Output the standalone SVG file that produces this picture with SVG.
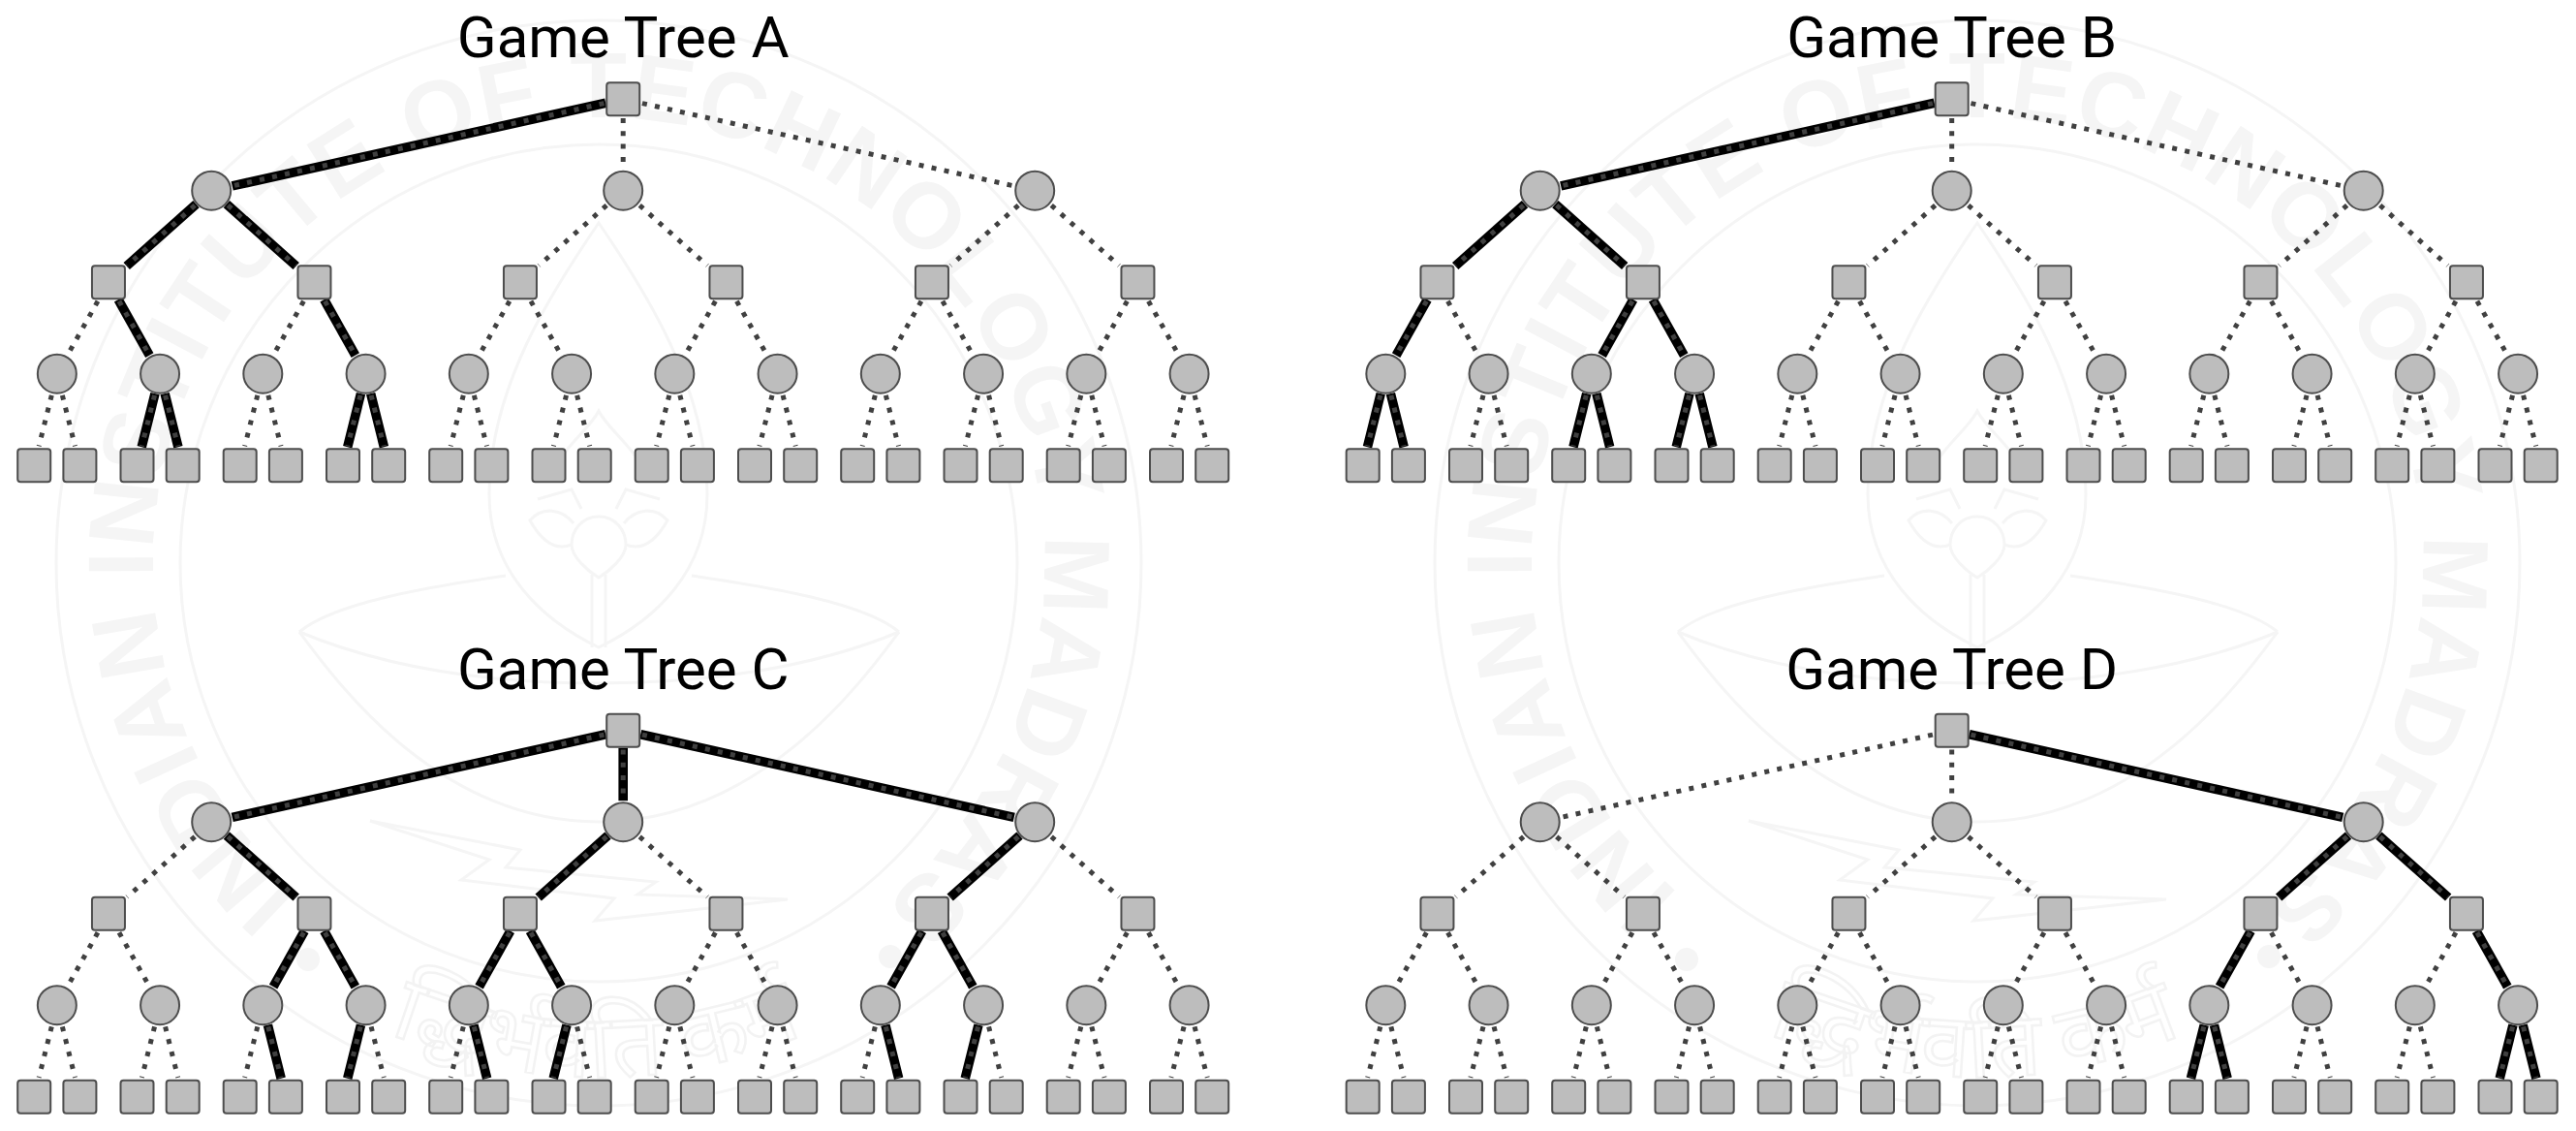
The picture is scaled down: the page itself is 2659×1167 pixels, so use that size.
<svg xmlns="http://www.w3.org/2000/svg" width="2659" height="1167" viewBox="0 0 2659 1167">
<style>
.bg{fill:#fff}
.wl{fill:none;stroke:#f5f5f5;stroke-width:3}
.wf{fill:#f5f5f5}
.wt{fill:#f5f5f5;font-family:"Liberation Sans",Arial,sans-serif;font-weight:700;font-size:96px}
.wd{fill:none;stroke:#f3f3f3;stroke-width:2.5;font-family:"Noto Sans","DejaVu Sans",sans-serif;font-size:92px}
.t{stroke:#000;stroke-width:9.6;fill:none}
.d{stroke:#404040;stroke-width:5;stroke-dasharray:5 8.3;fill:none}
.n{fill:#bdbdbd;stroke:#4d4d4d;stroke-width:2}
.title{font-family:Roboto,"Liberation Sans",sans-serif;font-size:60px;fill:#000;text-anchor:middle}
</style>
<defs>
<rect id="sq" class="n" x="-17" y="-17" width="34" height="34" rx="3"/>
<circle id="ci" class="n" r="20"/>
<line id="rl" x1="-19.76" y1="4.39" x2="-402.74" y2="89.55"/>
<line id="rm" x1="0" y1="19.8" x2="0" y2="71.7"/>
<line id="rr" x1="19.76" y1="4.39" x2="402.74" y2="89.55"/>
<line id="al" x1="-17.04" y1="15.15" x2="-86.9" y2="77.3"/>
<line id="ar" x1="17.04" y1="15.15" x2="86.9" y2="77.3"/>
<line id="bl" x1="-11" y1="19.57" x2="-41.95" y2="74.63"/>
<line id="br" x1="11" y1="19.57" x2="41.95" y2="74.63"/>
<line id="cl" x1="-5.52" y1="22.12" x2="-18.67" y2="74.75"/>
<line id="cr" x1="5.52" y1="22.12" x2="18.67" y2="74.75"/>
<line id="trl" x1="-18" y1="4" x2="-403.52" y2="89.72"/>
<line id="trm" x1="0" y1="18" x2="0" y2="72.5"/>
<line id="trr" x1="18" y1="4" x2="403.52" y2="89.72"/>
<line id="tal" x1="-15.7" y1="13.95" x2="-87.5" y2="77.83"/>
<line id="tar" x1="15.7" y1="13.95" x2="87.5" y2="77.83"/>
<line id="tbl" x1="-10.12" y1="18" x2="-42.34" y2="75.33"/>
<line id="tbr" x1="10.12" y1="18" x2="42.34" y2="75.33"/>
<line id="tcl" x1="-5.08" y1="20.37" x2="-18.86" y2="75.53"/>
<line id="tcr" x1="5.08" y1="20.37" x2="18.86" y2="75.53"/>
<path id="wp" d="M310.2 922.8A460 460 0 1 1 913.7 933.4"/>
<path id="wq" d="M377 1053A530 530 0 0 0 860 1053"/>
<g id="seal">
<circle class="wl" cx="618" cy="581" r="560"/>
<circle class="wl" cx="618" cy="581" r="432"/>
<text class="wt"><textPath href="#wp" textLength="2232" lengthAdjust="spacing">INDIAN INSTITUTE OF TECHNOLOGY MADRAS</textPath></text>
<circle class="wf" cx="318" cy="990" r="12"/>
<circle class="wf" cx="919" cy="987" r="12"/>
<text class="wd"><textPath href="#wq" startOffset="50%" text-anchor="middle">सिद्धिर्भवति कर्मजा</textPath></text>
<path class="wl" d="M618 668C560 640 505 590 505 510C505 400 570 300 618 230C666 300 730 400 730 510C730 590 676 640 618 668Z"/>
<path class="wl" d="M309 652C345 622 440 606 522 594M928 652C892 622 796 606 714 594"/>
<path class="wl" d="M309 652C345 700 450 848 618 848C786 848 892 700 928 652"/>
<path class="wl" d="M309 652C400 690 510 705 618 705C726 705 837 690 928 652"/>
<path class="wl" d="M611 593V668M625 593V668"/>
<path class="wl" d="M618 533C600 533 590 548 590 562C590 575 608 590 618 596C628 590 646 575 646 562C646 548 636 533 618 533Z"/>
<path class="wl" d="M590 562C575 568 560 560 547 537C560 522 580 525 592 540M646 562C661 568 676 560 689 537C676 522 656 525 644 540"/>
<path class="wl" d="M555 515L590 505L600 525M681 515L646 505L636 525"/>
<path class="wl" d="M577 475C590 455 610 440 618 424C626 440 646 455 659 475"/>
<path class="wl" d="M382 847L537 877L522 895L677 910L658 923L813 928L614 950L634 927L476 908L505 887Z"/>
</g>
<g id="dots">
<use href="#rl" x="643" y="102"/><use href="#rm" x="643" y="102"/><use href="#rr" x="643" y="102"/>
<use href="#al" x="218" y="196.5"/><use href="#ar" x="218" y="196.5"/>
<use href="#al" x="643" y="196.5"/><use href="#ar" x="643" y="196.5"/>
<use href="#al" x="1068" y="196.5"/><use href="#ar" x="1068" y="196.5"/>
<use href="#bl" x="111.75" y="291"/><use href="#br" x="111.75" y="291"/>
<use href="#bl" x="324.25" y="291"/><use href="#br" x="324.25" y="291"/>
<use href="#bl" x="536.75" y="291"/><use href="#br" x="536.75" y="291"/>
<use href="#bl" x="749.25" y="291"/><use href="#br" x="749.25" y="291"/>
<use href="#bl" x="961.75" y="291"/><use href="#br" x="961.75" y="291"/>
<use href="#bl" x="1174.25" y="291"/><use href="#br" x="1174.25" y="291"/>
<use href="#cl" x="58.625" y="385.5"/><use href="#cr" x="58.625" y="385.5"/>
<use href="#cl" x="164.875" y="385.5"/><use href="#cr" x="164.875" y="385.5"/>
<use href="#cl" x="271.125" y="385.5"/><use href="#cr" x="271.125" y="385.5"/>
<use href="#cl" x="377.375" y="385.5"/><use href="#cr" x="377.375" y="385.5"/>
<use href="#cl" x="483.625" y="385.5"/><use href="#cr" x="483.625" y="385.5"/>
<use href="#cl" x="589.875" y="385.5"/><use href="#cr" x="589.875" y="385.5"/>
<use href="#cl" x="696.125" y="385.5"/><use href="#cr" x="696.125" y="385.5"/>
<use href="#cl" x="802.375" y="385.5"/><use href="#cr" x="802.375" y="385.5"/>
<use href="#cl" x="908.625" y="385.5"/><use href="#cr" x="908.625" y="385.5"/>
<use href="#cl" x="1014.875" y="385.5"/><use href="#cr" x="1014.875" y="385.5"/>
<use href="#cl" x="1121.125" y="385.5"/><use href="#cr" x="1121.125" y="385.5"/>
<use href="#cl" x="1227.375" y="385.5"/><use href="#cr" x="1227.375" y="385.5"/>
</g>
</defs>
<rect class="bg" width="2659" height="1167"/>
<g id="watermark">
<use href="#seal"/>
<use href="#seal" x="1423"/>
</g>
<g id="connectors">
<g id="edges-a" transform="translate(0.2,0.2)">
<g class="t"><use href="#trl" x="643" y="102"/><use href="#tal" x="218" y="196.5"/><use href="#tar" x="218" y="196.5"/><use href="#tbr" x="111.75" y="291"/><use href="#tbr" x="324.25" y="291"/><use href="#tcl" x="164.875" y="385.5"/><use href="#tcr" x="164.875" y="385.5"/><use href="#tcl" x="377.375" y="385.5"/><use href="#tcr" x="377.375" y="385.5"/></g>
<use class="d" href="#dots"/>
</g>
<g id="edges-b" transform="translate(1371.7,0.2)">
<g class="t"><use href="#trl" x="643" y="102"/><use href="#tal" x="218" y="196.5"/><use href="#tar" x="218" y="196.5"/><use href="#tbl" x="111.75" y="291"/><use href="#tbl" x="324.25" y="291"/><use href="#tbr" x="324.25" y="291"/><use href="#tcl" x="58.625" y="385.5"/><use href="#tcr" x="58.625" y="385.5"/><use href="#tcl" x="271.125" y="385.5"/><use href="#tcr" x="271.125" y="385.5"/><use href="#tcl" x="377.375" y="385.5"/><use href="#tcr" x="377.375" y="385.5"/></g>
<use class="d" href="#dots"/>
</g>
<g id="edges-c" transform="translate(0.2,651.7)">
<g class="t"><use href="#trl" x="643" y="102"/><use href="#trm" x="643" y="102"/><use href="#trr" x="643" y="102"/><use href="#tar" x="218" y="196.5"/><use href="#tal" x="643" y="196.5"/><use href="#tal" x="1068" y="196.5"/><use href="#tbl" x="324.25" y="291"/><use href="#tbr" x="324.25" y="291"/><use href="#tbl" x="536.75" y="291"/><use href="#tbr" x="536.75" y="291"/><use href="#tbl" x="961.75" y="291"/><use href="#tbr" x="961.75" y="291"/><use href="#tcr" x="271.125" y="385.5"/><use href="#tcl" x="377.375" y="385.5"/><use href="#tcr" x="483.625" y="385.5"/><use href="#tcl" x="589.875" y="385.5"/><use href="#tcr" x="908.625" y="385.5"/><use href="#tcl" x="1014.875" y="385.5"/></g>
<use class="d" href="#dots"/>
</g>
<g id="edges-d" transform="translate(1371.7,651.7)">
<g class="t"><use href="#trr" x="643" y="102"/><use href="#tal" x="1068" y="196.5"/><use href="#tar" x="1068" y="196.5"/><use href="#tbl" x="961.75" y="291"/><use href="#tbr" x="1174.25" y="291"/><use href="#tcl" x="908.625" y="385.5"/><use href="#tcr" x="908.625" y="385.5"/><use href="#tcl" x="1227.375" y="385.5"/><use href="#tcr" x="1227.375" y="385.5"/></g>
<use class="d" href="#dots"/>
</g>
</g>
<g id="tree-a" transform="translate(0.2,0.2)">
<text class="title" x="643" y="59.3">Game Tree A</text>
<g id="a-r"><use href="#sq" x="643" y="102"/></g>
<g id="a-1a"><use href="#ci" x="218" y="196.5"/></g><g id="a-1b"><use href="#ci" x="643" y="196.5"/></g><g id="a-1c"><use href="#ci" x="1068" y="196.5"/></g>
<g id="a-2a"><use href="#sq" x="111.75" y="291"/></g><g id="a-2b"><use href="#sq" x="324.25" y="291"/></g><g id="a-2c"><use href="#sq" x="536.75" y="291"/></g><g id="a-2d"><use href="#sq" x="749.25" y="291"/></g><g id="a-2e"><use href="#sq" x="961.75" y="291"/></g><g id="a-2f"><use href="#sq" x="1174.25" y="291"/></g>
<g id="a-3a"><use href="#ci" x="58.625" y="385.5"/></g><g id="a-3b"><use href="#ci" x="164.875" y="385.5"/></g><g id="a-3c"><use href="#ci" x="271.125" y="385.5"/></g><g id="a-3d"><use href="#ci" x="377.375" y="385.5"/></g><g id="a-3e"><use href="#ci" x="483.625" y="385.5"/></g><g id="a-3f"><use href="#ci" x="589.875" y="385.5"/></g><g id="a-3g"><use href="#ci" x="696.125" y="385.5"/></g><g id="a-3h"><use href="#ci" x="802.375" y="385.5"/></g><g id="a-3i"><use href="#ci" x="908.625" y="385.5"/></g><g id="a-3j"><use href="#ci" x="1014.875" y="385.5"/></g><g id="a-3k"><use href="#ci" x="1121.125" y="385.5"/></g><g id="a-3l"><use href="#ci" x="1227.375" y="385.5"/></g>
<g id="a-4a"><use href="#sq" x="35" y="480"/></g><g id="a-4b"><use href="#sq" x="82.2" y="480"/></g><g id="a-4c"><use href="#sq" x="141.3" y="480"/></g><g id="a-4d"><use href="#sq" x="188.5" y="480"/></g><g id="a-4e"><use href="#sq" x="247.5" y="480"/></g><g id="a-4f"><use href="#sq" x="294.7" y="480"/></g><g id="a-4g"><use href="#sq" x="353.8" y="480"/></g><g id="a-4h"><use href="#sq" x="401" y="480"/></g><g id="a-4i"><use href="#sq" x="460" y="480"/></g><g id="a-4j"><use href="#sq" x="507.2" y="480"/></g><g id="a-4k"><use href="#sq" x="566.3" y="480"/></g><g id="a-4l"><use href="#sq" x="613.5" y="480"/></g><g id="a-4m"><use href="#sq" x="672.5" y="480"/></g><g id="a-4n"><use href="#sq" x="719.7" y="480"/></g><g id="a-4o"><use href="#sq" x="778.8" y="480"/></g><g id="a-4p"><use href="#sq" x="826" y="480"/></g><g id="a-4q"><use href="#sq" x="885" y="480"/></g><g id="a-4r"><use href="#sq" x="932.2" y="480"/></g><g id="a-4s"><use href="#sq" x="991.3" y="480"/></g><g id="a-4t"><use href="#sq" x="1038.5" y="480"/></g><g id="a-4u"><use href="#sq" x="1097.5" y="480"/></g><g id="a-4v"><use href="#sq" x="1144.7" y="480"/></g><g id="a-4w"><use href="#sq" x="1203.8" y="480"/></g><g id="a-4x"><use href="#sq" x="1251" y="480"/></g>
</g>
<g id="tree-b" transform="translate(1371.7,0.2)">
<text class="title" x="643" y="59.3">Game Tree B</text>
<g id="b-r"><use href="#sq" x="643" y="102"/></g>
<g id="b-1a"><use href="#ci" x="218" y="196.5"/></g><g id="b-1b"><use href="#ci" x="643" y="196.5"/></g><g id="b-1c"><use href="#ci" x="1068" y="196.5"/></g>
<g id="b-2a"><use href="#sq" x="111.75" y="291"/></g><g id="b-2b"><use href="#sq" x="324.25" y="291"/></g><g id="b-2c"><use href="#sq" x="536.75" y="291"/></g><g id="b-2d"><use href="#sq" x="749.25" y="291"/></g><g id="b-2e"><use href="#sq" x="961.75" y="291"/></g><g id="b-2f"><use href="#sq" x="1174.25" y="291"/></g>
<g id="b-3a"><use href="#ci" x="58.625" y="385.5"/></g><g id="b-3b"><use href="#ci" x="164.875" y="385.5"/></g><g id="b-3c"><use href="#ci" x="271.125" y="385.5"/></g><g id="b-3d"><use href="#ci" x="377.375" y="385.5"/></g><g id="b-3e"><use href="#ci" x="483.625" y="385.5"/></g><g id="b-3f"><use href="#ci" x="589.875" y="385.5"/></g><g id="b-3g"><use href="#ci" x="696.125" y="385.5"/></g><g id="b-3h"><use href="#ci" x="802.375" y="385.5"/></g><g id="b-3i"><use href="#ci" x="908.625" y="385.5"/></g><g id="b-3j"><use href="#ci" x="1014.875" y="385.5"/></g><g id="b-3k"><use href="#ci" x="1121.125" y="385.5"/></g><g id="b-3l"><use href="#ci" x="1227.375" y="385.5"/></g>
<g id="b-4a"><use href="#sq" x="35" y="480"/></g><g id="b-4b"><use href="#sq" x="82.2" y="480"/></g><g id="b-4c"><use href="#sq" x="141.3" y="480"/></g><g id="b-4d"><use href="#sq" x="188.5" y="480"/></g><g id="b-4e"><use href="#sq" x="247.5" y="480"/></g><g id="b-4f"><use href="#sq" x="294.7" y="480"/></g><g id="b-4g"><use href="#sq" x="353.8" y="480"/></g><g id="b-4h"><use href="#sq" x="401" y="480"/></g><g id="b-4i"><use href="#sq" x="460" y="480"/></g><g id="b-4j"><use href="#sq" x="507.2" y="480"/></g><g id="b-4k"><use href="#sq" x="566.3" y="480"/></g><g id="b-4l"><use href="#sq" x="613.5" y="480"/></g><g id="b-4m"><use href="#sq" x="672.5" y="480"/></g><g id="b-4n"><use href="#sq" x="719.7" y="480"/></g><g id="b-4o"><use href="#sq" x="778.8" y="480"/></g><g id="b-4p"><use href="#sq" x="826" y="480"/></g><g id="b-4q"><use href="#sq" x="885" y="480"/></g><g id="b-4r"><use href="#sq" x="932.2" y="480"/></g><g id="b-4s"><use href="#sq" x="991.3" y="480"/></g><g id="b-4t"><use href="#sq" x="1038.5" y="480"/></g><g id="b-4u"><use href="#sq" x="1097.5" y="480"/></g><g id="b-4v"><use href="#sq" x="1144.7" y="480"/></g><g id="b-4w"><use href="#sq" x="1203.8" y="480"/></g><g id="b-4x"><use href="#sq" x="1251" y="480"/></g>
</g>
<g id="tree-c" transform="translate(0.2,651.7)">
<text class="title" x="643" y="59.3">Game Tree C</text>
<g id="c-r"><use href="#sq" x="643" y="102"/></g>
<g id="c-1a"><use href="#ci" x="218" y="196.5"/></g><g id="c-1b"><use href="#ci" x="643" y="196.5"/></g><g id="c-1c"><use href="#ci" x="1068" y="196.5"/></g>
<g id="c-2a"><use href="#sq" x="111.75" y="291"/></g><g id="c-2b"><use href="#sq" x="324.25" y="291"/></g><g id="c-2c"><use href="#sq" x="536.75" y="291"/></g><g id="c-2d"><use href="#sq" x="749.25" y="291"/></g><g id="c-2e"><use href="#sq" x="961.75" y="291"/></g><g id="c-2f"><use href="#sq" x="1174.25" y="291"/></g>
<g id="c-3a"><use href="#ci" x="58.625" y="385.5"/></g><g id="c-3b"><use href="#ci" x="164.875" y="385.5"/></g><g id="c-3c"><use href="#ci" x="271.125" y="385.5"/></g><g id="c-3d"><use href="#ci" x="377.375" y="385.5"/></g><g id="c-3e"><use href="#ci" x="483.625" y="385.5"/></g><g id="c-3f"><use href="#ci" x="589.875" y="385.5"/></g><g id="c-3g"><use href="#ci" x="696.125" y="385.5"/></g><g id="c-3h"><use href="#ci" x="802.375" y="385.5"/></g><g id="c-3i"><use href="#ci" x="908.625" y="385.5"/></g><g id="c-3j"><use href="#ci" x="1014.875" y="385.5"/></g><g id="c-3k"><use href="#ci" x="1121.125" y="385.5"/></g><g id="c-3l"><use href="#ci" x="1227.375" y="385.5"/></g>
<g id="c-4a"><use href="#sq" x="35" y="480"/></g><g id="c-4b"><use href="#sq" x="82.2" y="480"/></g><g id="c-4c"><use href="#sq" x="141.3" y="480"/></g><g id="c-4d"><use href="#sq" x="188.5" y="480"/></g><g id="c-4e"><use href="#sq" x="247.5" y="480"/></g><g id="c-4f"><use href="#sq" x="294.7" y="480"/></g><g id="c-4g"><use href="#sq" x="353.8" y="480"/></g><g id="c-4h"><use href="#sq" x="401" y="480"/></g><g id="c-4i"><use href="#sq" x="460" y="480"/></g><g id="c-4j"><use href="#sq" x="507.2" y="480"/></g><g id="c-4k"><use href="#sq" x="566.3" y="480"/></g><g id="c-4l"><use href="#sq" x="613.5" y="480"/></g><g id="c-4m"><use href="#sq" x="672.5" y="480"/></g><g id="c-4n"><use href="#sq" x="719.7" y="480"/></g><g id="c-4o"><use href="#sq" x="778.8" y="480"/></g><g id="c-4p"><use href="#sq" x="826" y="480"/></g><g id="c-4q"><use href="#sq" x="885" y="480"/></g><g id="c-4r"><use href="#sq" x="932.2" y="480"/></g><g id="c-4s"><use href="#sq" x="991.3" y="480"/></g><g id="c-4t"><use href="#sq" x="1038.5" y="480"/></g><g id="c-4u"><use href="#sq" x="1097.5" y="480"/></g><g id="c-4v"><use href="#sq" x="1144.7" y="480"/></g><g id="c-4w"><use href="#sq" x="1203.8" y="480"/></g><g id="c-4x"><use href="#sq" x="1251" y="480"/></g>
</g>
<g id="tree-d" transform="translate(1371.7,651.7)">
<text class="title" x="643" y="59.3">Game Tree D</text>
<g id="d-r"><use href="#sq" x="643" y="102"/></g>
<g id="d-1a"><use href="#ci" x="218" y="196.5"/></g><g id="d-1b"><use href="#ci" x="643" y="196.5"/></g><g id="d-1c"><use href="#ci" x="1068" y="196.5"/></g>
<g id="d-2a"><use href="#sq" x="111.75" y="291"/></g><g id="d-2b"><use href="#sq" x="324.25" y="291"/></g><g id="d-2c"><use href="#sq" x="536.75" y="291"/></g><g id="d-2d"><use href="#sq" x="749.25" y="291"/></g><g id="d-2e"><use href="#sq" x="961.75" y="291"/></g><g id="d-2f"><use href="#sq" x="1174.25" y="291"/></g>
<g id="d-3a"><use href="#ci" x="58.625" y="385.5"/></g><g id="d-3b"><use href="#ci" x="164.875" y="385.5"/></g><g id="d-3c"><use href="#ci" x="271.125" y="385.5"/></g><g id="d-3d"><use href="#ci" x="377.375" y="385.5"/></g><g id="d-3e"><use href="#ci" x="483.625" y="385.5"/></g><g id="d-3f"><use href="#ci" x="589.875" y="385.5"/></g><g id="d-3g"><use href="#ci" x="696.125" y="385.5"/></g><g id="d-3h"><use href="#ci" x="802.375" y="385.5"/></g><g id="d-3i"><use href="#ci" x="908.625" y="385.5"/></g><g id="d-3j"><use href="#ci" x="1014.875" y="385.5"/></g><g id="d-3k"><use href="#ci" x="1121.125" y="385.5"/></g><g id="d-3l"><use href="#ci" x="1227.375" y="385.5"/></g>
<g id="d-4a"><use href="#sq" x="35" y="480"/></g><g id="d-4b"><use href="#sq" x="82.2" y="480"/></g><g id="d-4c"><use href="#sq" x="141.3" y="480"/></g><g id="d-4d"><use href="#sq" x="188.5" y="480"/></g><g id="d-4e"><use href="#sq" x="247.5" y="480"/></g><g id="d-4f"><use href="#sq" x="294.7" y="480"/></g><g id="d-4g"><use href="#sq" x="353.8" y="480"/></g><g id="d-4h"><use href="#sq" x="401" y="480"/></g><g id="d-4i"><use href="#sq" x="460" y="480"/></g><g id="d-4j"><use href="#sq" x="507.2" y="480"/></g><g id="d-4k"><use href="#sq" x="566.3" y="480"/></g><g id="d-4l"><use href="#sq" x="613.5" y="480"/></g><g id="d-4m"><use href="#sq" x="672.5" y="480"/></g><g id="d-4n"><use href="#sq" x="719.7" y="480"/></g><g id="d-4o"><use href="#sq" x="778.8" y="480"/></g><g id="d-4p"><use href="#sq" x="826" y="480"/></g><g id="d-4q"><use href="#sq" x="885" y="480"/></g><g id="d-4r"><use href="#sq" x="932.2" y="480"/></g><g id="d-4s"><use href="#sq" x="991.3" y="480"/></g><g id="d-4t"><use href="#sq" x="1038.5" y="480"/></g><g id="d-4u"><use href="#sq" x="1097.5" y="480"/></g><g id="d-4v"><use href="#sq" x="1144.7" y="480"/></g><g id="d-4w"><use href="#sq" x="1203.8" y="480"/></g><g id="d-4x"><use href="#sq" x="1251" y="480"/></g>
</g>
</svg>
